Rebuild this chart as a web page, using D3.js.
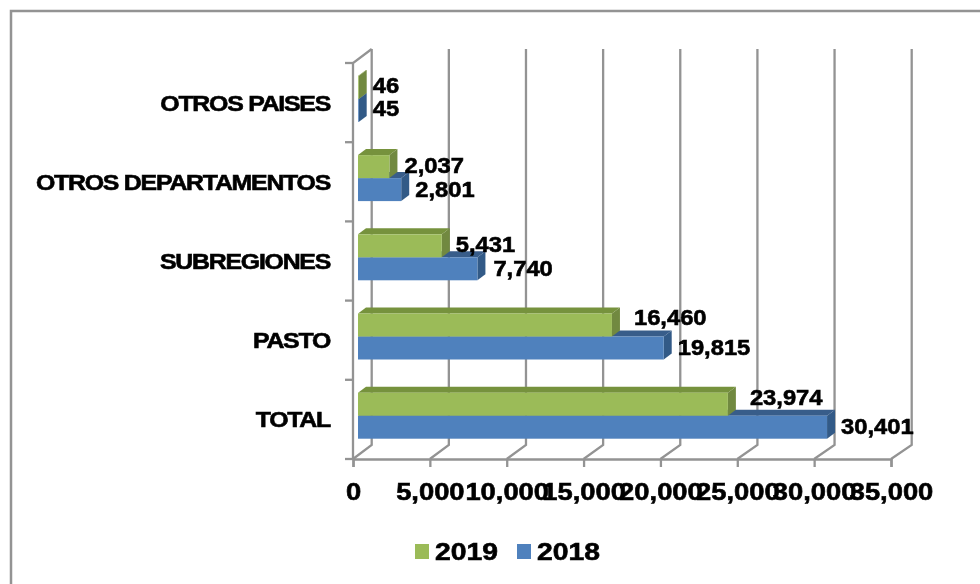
<!DOCTYPE html>
<html><head><meta charset="utf-8">
<script src="https://cdn.jsdelivr.net/npm/d3@7"></script>
<style>html,body{margin:0;background:#fff}svg{display:block}
text{font-family:"Liberation Sans",Arial,sans-serif;font-weight:700;fill:#000;stroke:#000;stroke-width:.6px}</style>
</head><body><script>
const categories=["TOTAL","PASTO","SUBREGIONES","OTROS DEPARTAMENTOS","OTROS PAISES"];
const values2018=[30401,19815,7740,2801,45];
const values2019=[23974,16460,5431,2037,46];
const tickValues=[0,5000,10000,15000,20000,25000,30000,35000];
const seriesNames=["2019","2018"];
// label nudges, by category, in px beyond the standard gap
const nudge2019=[[8,-7],[8,-8],[0,-2],[1,-2],[0,-2]];
const nudge2018=[[0,-1],[0,-1],[2,-1],[0,-1],[0,-2]];

const W=980,H=584;
const grey="#939393";
const depth={x:8,y:-6},wallY=-14;
const svg=d3.select("body").append("svg").attr("width",W).attr("height",H);
const defs=svg.append("defs");
defs.append("filter").attr("id","soft").append("feGaussianBlur").attr("stdDeviation",0.5);
const root=svg.append("g").attr("filter","url(#soft)");

const x=d3.scaleLinear().domain([0,35000]).range([353,891]);
const xBack=d3.scaleLinear().domain([0,35000]).range([371.7,911.7]);
const xBar=d3.scaleLinear().domain([0,35000]).range([358,898]);
const y=d3.scaleBand().domain(categories).range([459,63]);
const barH=23,barShift=-3.7;

// chart frame
root.append("path").attr("d",`M11,${H}V11H${W}`).attr("fill","none").attr("stroke",grey).attr("stroke-width",2.5);

// walls
const grid=root.append("g").attr("fill","none").attr("stroke",grey).attr("stroke-width",2.3);
const yFloor=y.range()[0],yTop=y.range()[1];
tickValues.forEach(v=>{
  grid.append("path").attr("d",`M${x(v)},${yFloor}L${xBack(v)},${yFloor+wallY}V${yTop+wallY}`);
});
grid.append("path").attr("d",`M${x(0)},${yFloor}V${yTop}L${xBack(0)},${yTop+wallY}`);

// axes
const axisX=root.append("g").attr("transform",`translate(0,${yFloor})`)
  .call(d3.axisBottom(x).tickValues(tickValues).tickFormat(d3.format(",")).tickSize(8).tickPadding(16));
const catScale=1.13,catPad=23;
const axisY=root.append("g").attr("transform",`translate(${x(0)},0)`)
  .call(d3.axisLeft(y).tickSize(0).tickPadding(catPad));
axisX.select(".domain").attr("stroke",grey).attr("stroke-width",2.3);
axisX.selectAll("line").attr("stroke",grey).attr("stroke-width",2.3);
axisY.select(".domain").remove();
axisX.selectAll("text").attr("font-size",24).attr("fill","#000").attr("transform","scale(1.14,1)");
axisY.selectAll("text").attr("font-size",22).attr("fill","#000").attr("letter-spacing","-1.1px")
  .attr("dy","0.36em").attr("x",-catPad/catScale).attr("transform",`scale(${catScale},1)`);
// category tick marks on band boundaries
const catTicks=root.append("g").attr("stroke",grey).attr("stroke-width",2.3);
categories.forEach(c=>{
  catTicks.append("line").attr("x1",x(0)-8).attr("x2",x(0)).attr("y1",y(c)).attr("y2",y(c));
});
catTicks.append("line").attr("x1",x(0)-8).attr("x2",x(0)).attr("y1",yFloor).attr("y2",yFloor);

// 3D bars
function bar(g,v,top,face,side,lid){
  const x0=xBar(0),x1=xBar(v),b=top+barH,d=depth;
  const pts=a=>a.map(p=>p.join(",")).join(" ");
  g.append("polygon").attr("points",pts([[x0,top],[x0+d.x,top+d.y],[x1+d.x,top+d.y],[x1,top]])).attr("fill",lid);
  g.append("polygon").attr("points",pts([[x1,top],[x1+d.x,top+d.y],[x1+d.x,b+d.y],[x1,b]])).attr("fill",side);
  g.append("rect").attr("x",x0).attr("y",top).attr("width",x1-x0).attr("height",barH).attr("fill",face);
}
const bars=root.append("g");
categories.forEach((c,i)=>{
  const mid=y(c)+y.bandwidth()/2+barShift;
  bar(bars,values2018[i],mid,"#4F81BD","#335A87","#385D8A");
  bar(bars,values2019[i],mid-barH,"#9BBB59","#71893F","#76923C");
});

// value labels
const fmt=d3.format(",");
function label(v,cy,n){
  const lx=xBar(v)+14+n[0],ly=cy+n[1];
  root.append("text").attr("transform",`translate(${lx},${ly}) scale(1.08,1)`)
    .attr("font-size",22).attr("dy","0.36em").text(fmt(v));
}
categories.forEach((c,i)=>{
  const mid=y(c)+y.bandwidth()/2+barShift;
  label(values2019[i],mid-barH/2,nudge2019[i]);
  label(values2018[i],mid+barH/2,nudge2018[i]);
});

// legend
const colors={"2019":"#9BBB59","2018":"#4F81BD"};
const legendX=[415,517];
seriesNames.forEach((s,i)=>{
  root.append("rect").attr("x",legendX[i]).attr("y",544).attr("width",14).attr("height",15).attr("fill",colors[s]);
  root.append("text").attr("transform",`translate(${legendX[i]+20},560) scale(1.18,1)`).attr("font-size",24).text(s);
});
</script></body></html>
